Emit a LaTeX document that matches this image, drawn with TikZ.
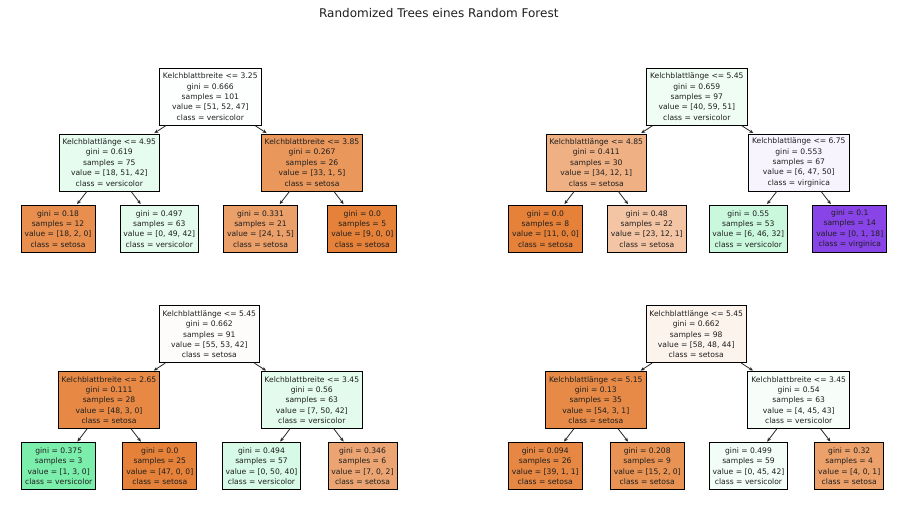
\documentclass[tikz,border=0pt]{standalone}
\usepackage{fontspec}
\setmainfont{DejaVu Sans}
\usetikzlibrary{arrows.meta}
% tree 1
\definecolor{aA}{RGB}{253,255,254}
\definecolor{aB}{RGB}{229,252,239}
\definecolor{aC}{RGB}{234,151,92}
\definecolor{aD}{RGB}{232,143,79}
\definecolor{aE}{RGB}{227,251,237}
\definecolor{aF}{RGB}{235,159,105}
\definecolor{aG}{RGB}{229,129,57}
% tree 2
\definecolor{bA}{RGB}{239,253,245}
\definecolor{bB}{RGB}{239,176,131}
\definecolor{bC}{RGB}{248,244,254}
\definecolor{bD}{RGB}{229,129,57}
\definecolor{bE}{RGB}{243,197,164}
\definecolor{bF}{RGB}{202,248,221}
\definecolor{bG}{RGB}{136,68,230}
% tree 3
\definecolor{cA}{RGB}{254,252,251}
\definecolor{cB}{RGB}{231,137,69}
\definecolor{cC}{RGB}{227,251,237}
\definecolor{cD}{RGB}{123,238,171}
\definecolor{cE}{RGB}{229,129,57}
\definecolor{cF}{RGB}{215,250,230}
\definecolor{cG}{RGB}{236,165,114}
% tree 4
\definecolor{dA}{RGB}{252,243,236}
\definecolor{dB}{RGB}{231,138,71}
\definecolor{dC}{RGB}{247,254,250}
\definecolor{dD}{RGB}{230,135,67}
\definecolor{dE}{RGB}{232,146,83}
\definecolor{dF}{RGB}{242,253,247}
\definecolor{dG}{RGB}{236,161,107}
\definecolor{txt}{RGB}{30,30,30}
\begin{document}
\begin{tikzpicture}[x=1pt,y=-1pt,
  tnode/.style={draw=black, line width=0.8pt, align=center, text=txt,
    font=\fontsize{7.6}{10.4}\selectfont, inner xsep=3.5pt, inner ysep=0pt,
    minimum height=57pt},
  tleaf/.style={tnode, minimum height=47pt},
  edge/.style={draw=black!85, line width=0.8pt, -{Stealth[length=4pt,width=3.5pt]}, shorten >=1pt}]
\useasboundingbox (0,0) rectangle (907,506);
\fill[white] (0,0) rectangle (907,506);
\node[anchor=base, font=\fontsize{12}{14}\selectfont, text=txt] (title) at (438.8,17.3) {Randomized Trees eines Random Forest};

% ---------- Tree 1 ----------
\node[tnode, fill=aA] (a0) at (210.3,96.7) {Kelchblattbreite <= 3.25\\gini = 0.666\\samples = 101\\value = [51, 52, 47]\\class = versicolor};
\node[tnode, fill=aB] (a1) at (109.3,162.5) {Kelchblattlänge <= 4.95\\gini = 0.619\\samples = 75\\value = [18, 51, 42]\\class = versicolor};
\node[tnode, fill=aC] (a2) at (312,162.5) {Kelchblattbreite <= 3.85\\gini = 0.267\\samples = 26\\value = [33, 1, 5]\\class = setosa};
\node[tleaf, fill=aD] (a3) at (58,228.8) {gini = 0.18\\samples = 12\\value = [18, 2, 0]\\class = setosa};
\node[tleaf, fill=aE] (a4) at (159.3,228.8) {gini = 0.497\\samples = 63\\value = [0, 49, 42]\\class = versicolor};
\node[tleaf, fill=aF] (a5) at (260.5,228.8) {gini = 0.331\\samples = 21\\value = [24, 1, 5]\\class = setosa};
\node[tleaf, fill=aG] (a6) at (362.3,228.8) {gini = 0.0\\samples = 5\\value = [9, 0, 0]\\class = setosa};
\draw[edge] (a0) -- (a1);
\draw[edge] (a0) -- (a2);
\draw[edge] (a1) -- (a3);
\draw[edge] (a1) -- (a4);
\draw[edge] (a2) -- (a5);
\draw[edge] (a2) -- (a6);

% ---------- Tree 2 ----------
\node[tnode, fill=bA] (b0) at (696.8,96.7) {Kelchblattlänge <= 5.45\\gini = 0.659\\samples = 97\\value = [40, 59, 51]\\class = versicolor};
\node[tnode, fill=bB] (b1) at (596.3,162.5) {Kelchblattlänge <= 4.85\\gini = 0.411\\samples = 30\\value = [34, 12, 1]\\class = setosa};
\node[tnode, fill=bC] (b2) at (798.8,162.5) {Kelchblattlänge <= 6.75\\gini = 0.553\\samples = 67\\value = [6, 47, 50]\\class = virginica};
\node[tleaf, fill=bD] (b3) at (545.5,228.8) {gini = 0.0\\samples = 8\\value = [11, 0, 0]\\class = setosa};
\node[tleaf, fill=bE] (b4) at (646.8,228.8) {gini = 0.48\\samples = 22\\value = [23, 12, 1]\\class = setosa};
\node[tleaf, fill=bF] (b5) at (748.3,228.8) {gini = 0.55\\samples = 53\\value = [6, 46, 32]\\class = versicolor};
\node[tleaf, fill=bG] (b6) at (849.8,228.8) {gini = 0.1\\samples = 14\\value = [0, 1, 18]\\class = virginica};
\draw[edge] (b0) -- (b1);
\draw[edge] (b0) -- (b2);
\draw[edge] (b1) -- (b3);
\draw[edge] (b1) -- (b4);
\draw[edge] (b2) -- (b5);
\draw[edge] (b2) -- (b6);

% ---------- Tree 3 ----------
\node[tnode, fill=cA] (c0) at (209.3,334.2) {Kelchblattlänge <= 5.45\\gini = 0.662\\samples = 91\\value = [55, 53, 42]\\class = setosa};
\node[tnode, fill=cB] (c1) at (109,400) {Kelchblattbreite <= 2.65\\gini = 0.111\\samples = 28\\value = [48, 3, 0]\\class = setosa};
\node[tnode, fill=cC] (c2) at (311.8,400) {Kelchblattbreite <= 3.45\\gini = 0.56\\samples = 63\\value = [7, 50, 42]\\class = versicolor};
\node[tleaf, fill=cD] (c3) at (58.7,466.3) {gini = 0.375\\samples = 3\\value = [1, 3, 0]\\class = versicolor};
\node[tleaf, fill=cE] (c4) at (159.8,466.3) {gini = 0.0\\samples = 25\\value = [47, 0, 0]\\class = setosa};
\node[tleaf, fill=cF] (c5) at (261.5,466.3) {gini = 0.494\\samples = 57\\value = [0, 50, 40]\\class = versicolor};
\node[tleaf, fill=cG] (c6) at (362.5,466.3) {gini = 0.346\\samples = 6\\value = [7, 0, 2]\\class = setosa};
\draw[edge] (c0) -- (c1);
\draw[edge] (c0) -- (c2);
\draw[edge] (c1) -- (c3);
\draw[edge] (c1) -- (c4);
\draw[edge] (c2) -- (c5);
\draw[edge] (c2) -- (c6);

% ---------- Tree 4 ----------
\node[tnode, fill=dA] (d0) at (696.2,334.2) {Kelchblattlänge <= 5.45\\gini = 0.662\\samples = 98\\value = [58, 48, 44]\\class = setosa};
\node[tnode, fill=dB] (d1) at (595.8,400) {Kelchblattlänge <= 5.15\\gini = 0.13\\samples = 35\\value = [54, 3, 1]\\class = setosa};
\node[tnode, fill=dC] (d2) at (798.7,400) {Kelchblattbreite <= 3.45\\gini = 0.54\\samples = 63\\value = [4, 45, 43]\\class = versicolor};
\node[tleaf, fill=dD] (d3) at (545.2,466.3) {gini = 0.094\\samples = 26\\value = [39, 1, 1]\\class = setosa};
\node[tleaf, fill=dE] (d4) at (647.2,466.3) {gini = 0.208\\samples = 9\\value = [15, 2, 0]\\class = setosa};
\node[tleaf, fill=dF] (d5) at (748.5,466.3) {gini = 0.499\\samples = 59\\value = [0, 45, 42]\\class = versicolor};
\node[tleaf, fill=dG] (d6) at (849.2,466.3) {gini = 0.32\\samples = 4\\value = [4, 0, 1]\\class = setosa};
\draw[edge] (d0) -- (d1);
\draw[edge] (d0) -- (d2);
\draw[edge] (d1) -- (d3);
\draw[edge] (d1) -- (d4);
\draw[edge] (d2) -- (d5);
\draw[edge] (d2) -- (d6);
\end{tikzpicture}
\end{document}
